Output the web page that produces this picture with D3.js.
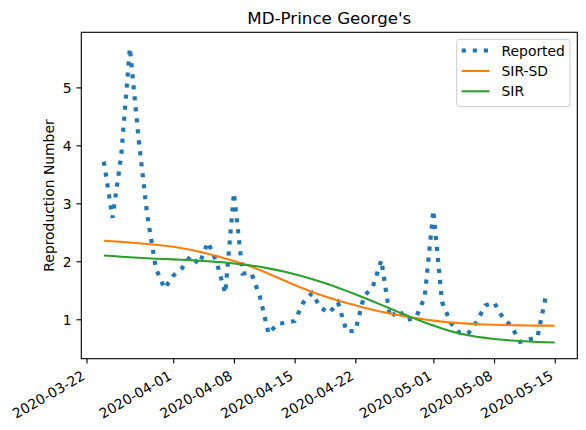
<!DOCTYPE html>
<html><head><meta charset="utf-8">
<script src="https://cdn.jsdelivr.net/npm/d3@7"></script>
<style>
body{margin:0;background:#fff;}
text{font-family:"DejaVu Sans",sans-serif;fill:#000;}
</style>
</head><body>
<svg id="chart" width="586" height="430"></svg>
<script>
// ---- data ----
const title = "MD-Prince George's";
const yLabel = "Reproduction Number";
const seriesNames = ["Reported", "SIR-SD", "SIR"];
const seriesColors = ["#1f77b4", "#ff7f0e", "#2ca02c"];
const startDate = "2020-03-24";
const endDate = "2020-05-15";
const xTickLabels = ["2020-03-22","2020-04-01","2020-04-08","2020-04-15","2020-04-22","2020-05-01","2020-05-08","2020-05-15"];
const yTicks = [1, 2, 3, 4, 5];

// daily values from 2020-03-24 to 2020-05-14
const reported = [3.72, 2.75, 3.82, 5.68, 4.12, 2.80, 1.88, 1.53, 1.75, 1.88,
  2.09, 1.95, 2.33, 1.99, 1.45, 3.18, 1.79, 1.80, 1.39, 0.75,
  0.92, 0.94, 0.97, 1.29, 1.45, 1.20, 1.11, 1.29, 0.79, 0.80,
  1.40, 1.55, 2.02, 1.03, 1.16, 0.99, 1.03, 1.38, 2.88, 1.30,
  0.94, 0.77, 0.75, 0.96, 1.24, 1.29, 1.03, 0.88, 0.61, 0.65,
  0.69, 1.42];

// daily values from 2020-03-24 to 2020-05-15
const sirSd = [2.355, 2.345, 2.335, 2.323, 2.31, 2.298, 2.285, 2.268, 2.25, 2.226,
  2.20, 2.166, 2.13, 2.09, 2.05, 2.005, 1.96, 1.905, 1.85, 1.785,
  1.72, 1.655, 1.59, 1.53, 1.47, 1.42, 1.37, 1.325, 1.28, 1.24,
  1.20, 1.165, 1.13, 1.10, 1.07, 1.045, 1.02, 0.997, 0.977, 0.96,
  0.945, 0.933, 0.925, 0.917, 0.91, 0.905, 0.90, 0.897, 0.895, 0.893,
  0.891, 0.89, 0.889];

const sir = [2.10, 2.09, 2.08, 2.07, 2.06, 2.052, 2.045, 2.04, 2.033, 2.027,
  2.02, 2.01, 2.00, 1.99, 1.978, 1.963, 1.947, 1.928, 1.905, 1.878,
  1.848, 1.815, 1.778, 1.738, 1.695, 1.648, 1.598, 1.545, 1.49, 1.432,
  1.372, 1.31, 1.248, 1.185, 1.123, 1.062, 1.003, 0.946, 0.892, 0.84,
  0.795, 0.757, 0.726, 0.70, 0.679, 0.661, 0.646, 0.634, 0.624, 0.616,
  0.609, 0.603, 0.598];

// ---- layout ----
const svg = d3.select("#chart");
const L = 81.3, R = 577.3, T = 32.3, B = 358.7;
const parse = d3.utcParse("%Y-%m-%d");
const dates = d3.utcDay.range(parse(startDate), d3.utcDay.offset(parse(endDate), 1));
const t0 = +dates[0], t1 = +dates[dates.length - 1];
const padT = 0.05 * (t1 - t0);
const x = d3.scaleUtc().domain([new Date(t0 - padT), new Date(t1 + padT)]).range([L, R]);
const y = d3.scaleLinear().domain([0.32, 5.95]).range([B, T]);

svg.append("defs").append("clipPath").attr("id", "clip")
  .append("rect").attr("x", L).attr("y", T).attr("width", R - L).attr("height", B - T);

const line = d3.line().x((d, i) => x(dates[i])).y(d => y(d));
const g = svg.append("g").attr("clip-path", "url(#clip)");
g.append("path").datum(reported).attr("d", line).attr("fill", "none")
  .attr("stroke", seriesColors[0]).attr("stroke-width", 4.17)
  .attr("stroke-dasharray", "4.17,6.88").attr("stroke-linecap", "butt");
g.append("path").datum(sirSd).attr("d", line).attr("fill", "none")
  .attr("stroke", seriesColors[1]).attr("stroke-width", 2.08);
g.append("path").datum(sir).attr("d", line).attr("fill", "none")
  .attr("stroke", seriesColors[2]).attr("stroke-width", 2.08);

// frame
svg.append("rect").attr("x", L).attr("y", T).attr("width", R - L).attr("height", B - T)
  .attr("fill", "none").attr("stroke", "#000").attr("stroke-width", 1.11);

// x axis
const xAxis = d3.axisBottom(x).tickValues(xTickLabels.map(parse))
  .tickSize(4.86).tickPadding(0).tickFormat(d3.utcFormat("%Y-%m-%d"));
const gx = svg.append("g").attr("transform", `translate(0,${B})`).call(xAxis);
gx.select(".domain").remove();
gx.selectAll(".tick line").attr("stroke", "#000").attr("stroke-width", 1.11);
gx.selectAll(".tick text")
  .attr("font-size", "13.9px").attr("font-family", "DejaVu Sans")
  .attr("text-anchor", "end").attr("y", null).attr("dy", null)
  .attr("transform", `translate(-1,20) rotate(-30)`);

// y axis
const yAxis = d3.axisLeft(y).tickValues(yTicks).tickSize(4.86).tickPadding(4.86).tickFormat(d3.format("d"));
const gy = svg.append("g").attr("transform", `translate(${L},0)`).call(yAxis);
gy.select(".domain").remove();
gy.selectAll(".tick line").attr("stroke", "#000").attr("stroke-width", 1.11);
gy.selectAll(".tick text").attr("font-size", "13.9px").attr("font-family", "DejaVu Sans").attr("dy", "0.36em");

// title & label
svg.append("text").attr("x", (L + R) / 2).attr("y", 24.3).attr("text-anchor", "middle")
  .attr("font-size", "16.7px").text(title);
svg.append("text").attr("transform", `translate(53.5,${(T + B) / 2}) rotate(-90)`)
  .attr("text-anchor", "middle").attr("font-size", "13.9px").text(yLabel);

// legend
const lg = svg.append("g");
lg.append("rect").attr("x", 456.7).attr("y", 39.3).attr("width", 113.3).attr("height", 67.4)
  .attr("rx", 2.8).attr("fill", "#fff").attr("fill-opacity", 0.8)
  .attr("stroke", "#cccccc").attr("stroke-width", 1);
const rowY = [50.5, 71, 91.3];
seriesNames.forEach((name, i) => {
  const l = lg.append("line").attr("x1", 461.7).attr("x2", 489.5)
    .attr("y1", rowY[i]).attr("y2", rowY[i]).attr("stroke", seriesColors[i]);
  if (i === 0) l.attr("stroke-width", 4.17).attr("stroke-dasharray", "4.17,6.88");
  else l.attr("stroke-width", 2.08);
  lg.append("text").attr("x", 501.5).attr("y", rowY[i] + 5.1).attr("font-size", "13.9px").text(name);
});
</script>
</body></html>
